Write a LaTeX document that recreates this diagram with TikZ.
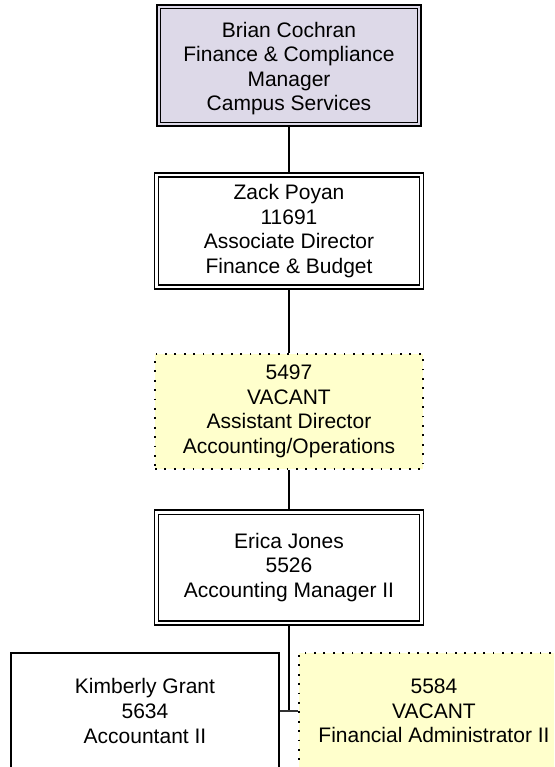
\documentclass[tikz,border=0pt]{standalone}
\usepackage{fontspec}
\setmainfont{Liberation Sans}
\definecolor{lav}{RGB}{221,217,232}
\definecolor{vac}{RGB}{255,255,204}
\begin{document}
\begin{tikzpicture}[x=1pt,y=-1pt,
  box/.style={rectangle, inner sep=0pt, align=center, font=\fontsize{21}{24.6}\selectfont, text=black},
  solidbox/.style={box, draw=black, line width=1.6pt, fill=white},
  vacbox/.style={box, draw=black, line width=1.8pt, dash pattern=on 1.8pt off 7.6pt, fill=vac},
  conn/.style={line width=1.8pt, black},
  innerline/.style={line width=1.1pt, black}]
\useasboundingbox (0,0) rectangle (554,767);
\clip (0,0) rectangle (554,767);

\node[box, draw=black, line width=2.4pt, fill=lav, minimum width=264pt, minimum height=121pt] (b1) at (289,65.5) {};
\draw[innerline] ([shift={(5,5)}]b1.north west) rectangle ([shift={(-5,-5)}]b1.south east);
\node[box] (b1t) at (289,68.5) {Brian Cochran\\Finance \& Compliance\\Manager\\Campus Services};

\node[solidbox, minimum width=269pt, minimum height=116pt] (b2) at (289,231)
  {Zack Poyan\\11691\\Associate Director\\Finance \& Budget};
\draw[innerline, line width=1.4pt] ([shift={(5,5)}]b2.north west) rectangle ([shift={(-5,-5)}]b2.south east);

\node[vacbox, minimum width=268pt, minimum height=115pt] (b3) at (289,411.5)
  {5497\\VACANT\\Assistant Director\\Accounting/Operations};

\node[solidbox, minimum width=269pt, minimum height=115pt] (b4) at (289,567.5)
  {Erica Jones\\5526\\Accounting Manager II};
\draw[innerline, line width=1.4pt] ([shift={(5,5)}]b4.north west) rectangle ([shift={(-5,-5)}]b4.south east);

\node[solidbox, minimum width=268pt, minimum height=116pt] (b5) at (145,711)
  {Kimberly Grant\\5634\\Accountant II};

\node[vacbox, minimum width=270pt, minimum height=116pt] (b6) at (434,711)
  {5584\\VACANT\\Financial Administrator II};

\coordinate (j) at (289,711);
\draw[conn] (b1.south) -- (b2.north);
\draw[conn] (b2.south) -- (b3.north);
\draw[conn] (b3.south) -- (b4.north);
\draw[conn] (b4.south) -- (j);
\draw[line width=1.5pt, black!80] (b5.east) -- (b6.west);
\end{tikzpicture}
\end{document}
